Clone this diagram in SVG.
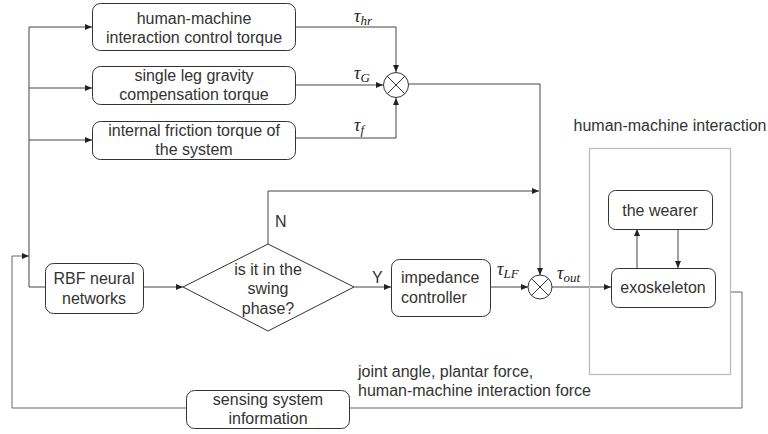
<svg xmlns="http://www.w3.org/2000/svg" width="768" height="434" viewBox="0 0 768 434">
<style>
.box{fill:#fff;stroke:#333;stroke-width:1}
.t{font-family:"Liberation Sans","Noto Sans",Arial,sans-serif;font-size:16px;fill:#333}
.c{text-anchor:middle}
.m{font-family:"Liberation Serif","DejaVu Serif",serif;font-style:italic;font-size:18px;fill:#222}
.s{font-size:13px}
.ln{fill:none;stroke:#444;stroke-width:1}
.fb{fill:none;stroke:#666;stroke-width:1}
</style>
<defs>
<marker id="a" markerWidth="7" markerHeight="6" refX="7" refY="3" orient="auto" markerUnits="userSpaceOnUse">
<path d="M0,0 L7,3 L0,6 z" fill="#222"/>
</marker>
</defs>
<rect x="0" y="0" width="768" height="434" fill="#fff"/>
<g id="connectors">
<polyline class="ln" points="29,27 29,287 45,287"/>
<line class="ln" x1="29" y1="27" x2="92" y2="27" marker-end="url(#a)"/>
<line class="ln" x1="29" y1="88" x2="92" y2="88" marker-end="url(#a)"/>
<line class="ln" x1="29" y1="140" x2="92" y2="140" marker-end="url(#a)"/>
<polyline class="ln" points="295,27 396,27 396,72" marker-end="url(#a)"/>
<line class="ln" x1="295" y1="85" x2="383" y2="85" marker-end="url(#a)"/>
<polyline class="ln" points="295,138 396,138 396,98" marker-end="url(#a)"/>
<polyline class="ln" points="409,84 540,84 540,275" marker-end="url(#a)"/>
<polyline class="ln" points="268,244 268,191 539,191" marker-end="url(#a)"/>
<line class="ln" x1="143" y1="287" x2="183" y2="287" marker-end="url(#a)"/>
<line class="ln" x1="354" y1="287" x2="391" y2="287" marker-end="url(#a)"/>
<line class="ln" x1="491" y1="287" x2="528" y2="287" marker-end="url(#a)"/>
<line class="ln" x1="552" y1="287" x2="611" y2="287" marker-end="url(#a)"/>
<line class="ln" x1="637" y1="268" x2="637" y2="229" marker-end="url(#a)"/>
<line class="ln" x1="678" y1="229" x2="678" y2="268" marker-end="url(#a)"/>
<polyline class="fb" points="730,292 742,292 742,408 12,408 12,256 29,256" marker-end="url(#a)"/>
<text class="m" x="354" y="22">τ<tspan class="s" dy="3">hr</tspan></text>
<text class="m" x="354" y="79">τ<tspan class="s" dy="3">G</tspan></text>
<text class="m" x="354" y="131">τ<tspan class="s" dy="3">f</tspan></text>
<text class="m" x="497" y="275">τ<tspan class="s" dy="3">LF</tspan></text>
<text class="m" x="557" y="279">τ<tspan class="s" dy="3">out</tspan></text>
<text class="t" x="275" y="227">N</text>
<text class="t" x="372" y="283">Y</text>
<text class="t" x="358" y="377">joint angle, plantar force,</text>
<text class="t" x="358" y="396">human-machine interaction force</text>
</g>
<g id="hmi">
<rect x="589.5" y="148.5" width="141" height="226" fill="none" stroke="#bbb" stroke-width="1.2"/>
<text class="t" x="670" y="131" text-anchor="middle">human-machine interaction</text>
</g>
<g id="box-hr">
<rect class="box" x="92.5" y="3.5" width="203" height="47" rx="8"/>
<text class="t c" x="194" y="24">human-machine</text>
<text class="t c" x="194" y="43">interaction control torque</text>
</g>
<g id="box-g">
<rect class="box" x="92.5" y="66.5" width="203" height="38" rx="8"/>
<text class="t c" x="194" y="81">single leg gravity</text>
<text class="t c" x="194" y="100">compensation torque</text>
</g>
<g id="box-f">
<rect class="box" x="92.5" y="121.5" width="203" height="38" rx="8"/>
<text class="t c" x="194" y="136">internal friction torque of</text>
<text class="t c" x="194" y="155">the system</text>
</g>
<g id="sum1">
<circle cx="396" cy="85" r="12.5" fill="#fff" stroke="#333"/>
<path d="M387.2,76.2 L404.8,93.8 M404.8,76.2 L387.2,93.8" stroke="#333" fill="none"/>
</g>
<g id="rbf">
<rect class="box" x="45.5" y="263.5" width="98" height="50" rx="8"/>
<text class="t c" x="94" y="284">RBF neural</text>
<text class="t c" x="94" y="304">networks</text>
</g>
<g id="decision">
<polygon points="268,244 354,287 268,331 183,287" fill="#fff" stroke="#333"/>
<text class="t c" x="268" y="275">is it in the</text>
<text class="t c" x="268" y="294">swing</text>
<text class="t c" x="268" y="314">phase?</text>
</g>
<g id="impedance">
<rect class="box" x="391.5" y="259.5" width="99" height="57" rx="8"/>
<text class="t" x="401" y="283">impedance</text>
<text class="t" x="401" y="303">controller</text>
</g>
<g id="sum2">
<circle cx="540" cy="287" r="12" fill="#fff" stroke="#333"/>
<path d="M531.5,278.5 L548.5,295.5 M548.5,278.5 L531.5,295.5" stroke="#333" fill="none"/>
</g>
<g id="wearer">
<rect class="box" x="608.5" y="190.5" width="104" height="39" rx="7"/>
<text class="t c" x="660" y="216">the wearer</text>
</g>
<g id="exo">
<rect class="box" x="611.5" y="268.5" width="104" height="39" rx="7"/>
<text class="t c" x="663" y="293">exoskeleton</text>
</g>
<g id="sensing">
<rect class="box" x="186.5" y="390.5" width="163" height="38" rx="8"/>
<text class="t c" x="268" y="405">sensing system</text>
<text class="t c" x="268" y="424">information</text>
</g>
</svg>
